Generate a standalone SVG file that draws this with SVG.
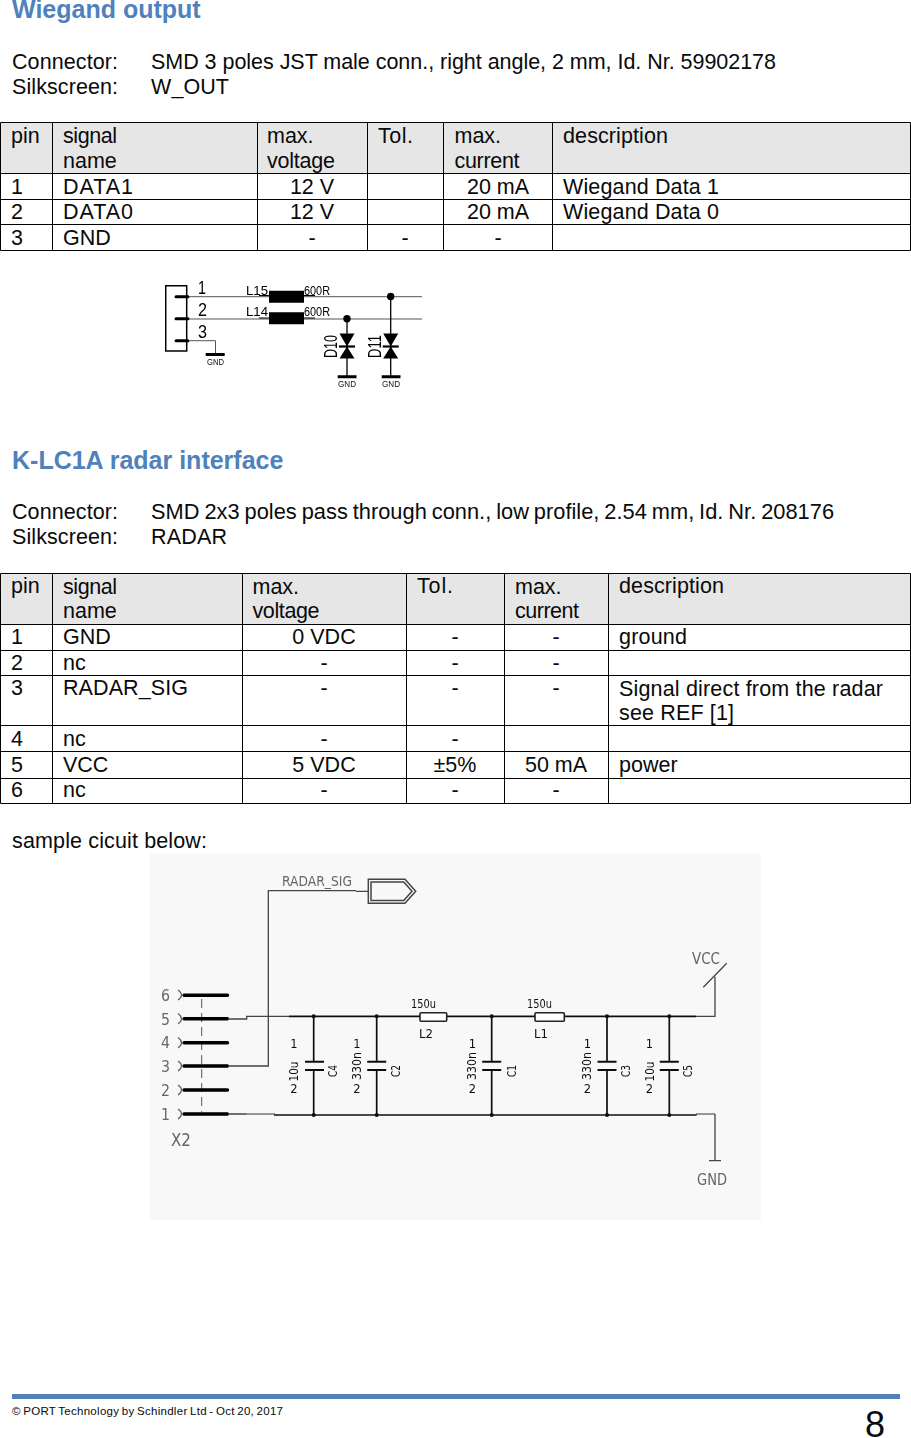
<svg xmlns="http://www.w3.org/2000/svg" width="911" height="1438" viewBox="0 0 911 1438">
<style>
text{font-family:"Liberation Sans",Arial,sans-serif;fill:#0a0a0a}
.b{font-size:21.5px}
.c{text-anchor:middle}
.h{font-size:25px;font-weight:bold;fill:#4f81bd}
.g{stroke:#000;stroke-width:1;fill:none}
.hd{fill:#e6e6e6}
.w{stroke:#444;stroke-width:1.300;fill:none}
.d{stroke:#111;stroke-width:1.700;fill:none}
.t{stroke:#000;stroke-width:3;fill:none;stroke-linecap:round}
.s{font-family:"DejaVu Sans",sans-serif;fill:#666;font-size:16px}
.k{font-family:"DejaVu Sans",sans-serif;fill:#111;font-size:11.500px;text-anchor:middle}
.m{font-family:"Liberation Sans",sans-serif;fill:#000;font-size:13.500px}
.n{font-family:"Liberation Sans",sans-serif;fill:#111;font-size:9.500px;text-anchor:middle}
</style>
<defs>
<filter id="soft" x="0" y="0" width="100%" height="100%"><feGaussianBlur stdDeviation="0.4"/></filter>
<g id="tvs">
<path d="M-7.500 -13H7.500L0 0ZM-7.500 12H7.500L0 0Z" fill="#000"/>
<path d="M-8 0H8" stroke="#000" stroke-width="2.200"/>
</g>
<g id="cap">
<path d="M-9.500 -4.200H9.500M-9.500 4.200H9.500" stroke="#111" stroke-width="2"/>
</g>
</defs>
<rect width="911" height="1438" fill="#fff"/>

<g id="wiegand-text">
<text class="h" x="12" y="17.500">Wiegand output</text>
<text class="b" x="12" y="69" textLength="106">Connector:</text>
<text class="b" x="151" y="69" textLength="625">SMD 3 poles JST male conn., right angle, 2 mm, Id. Nr. 59902178</text>
<text class="b" x="12" y="93.500" textLength="106">Silkscreen:</text>
<text class="b" x="151" y="93.500" textLength="78">W_OUT</text>
</g>

<g id="wiegand-table">
<rect class="hd" x="1" y="122" width="910" height="51"/>
<path class="g" d="M0.500 122.500H910.500V250.500H0.500ZM0.500 173.500H910.500M0.500 199.500H910.500M0.500 224.500H910.500M52.500 122.500V250.500M257.500 122.500V250.500M367.500 122.500V250.500M443.500 122.500V250.500M552.500 122.500V250.500"/>
<g class="b">
<text x="11" y="143">pin</text><text x="63" y="143" textLength="54">signal</text><text x="63" y="167.500">name</text>
<text x="267" y="143">max.</text><text x="267" y="167.500" textLength="68">voltage</text><text x="378" y="143" textLength="35">Tol.</text>
<text x="454.500" y="143">max.</text><text x="454.500" y="167.500" textLength="65">current</text><text x="563" y="143" textLength="105">description</text>
<text x="11" y="194">1</text><text x="63" y="194" textLength="70">DATA1</text><text class="c" x="312" y="194">12 V</text><text class="c" x="498" y="194">20 mA</text><text x="563" y="194" textLength="156">Wiegand Data 1</text>
<text x="11" y="219">2</text><text x="63" y="219" textLength="70">DATA0</text><text class="c" x="312" y="219">12 V</text><text class="c" x="498" y="219">20 mA</text><text x="563" y="219" textLength="156">Wiegand Data 0</text>
<text x="11" y="245">3</text><text x="63" y="245">GND</text><text class="c" x="312" y="245">-</text><text class="c" x="405" y="245">-</text><text class="c" x="498" y="245">-</text>
</g>
</g>

<g id="wiegand-schematic" filter="url(#soft)">
<path d="M165.700 285.700H186.700V351H165.700Z" stroke="#000" stroke-width="1.500" fill="none"/>
<path class="t" d="M176 296.700H188M176 318.700H188M176 340.700H188"/>
<path stroke="#555" fill="none" d="M189 296.700H422M189 319H422M189 340.700H215.500V354"/>
<path stroke="#000" stroke-width="3" d="M205.700 354.500H224.700M337.700 376.700H356.500M381.700 376.700H400.500"/>
<path fill="#000" d="M269 290.700H304V302.700H269ZM269 312.300H304V324.300H269Z"/>
<path stroke="#000" d="M259 295.500H269M304 295.500H315M259 318H269M304 318H315"/>
<circle cx="347" cy="318.700" r="3.700"/><circle cx="390.700" cy="296.500" r="3.700"/>
<path stroke="#000" stroke-width="1.300" d="M347 319V376M390.700 297V376"/>
<use href="#tvs" x="347" y="346.500"/><use href="#tvs" x="390.700" y="346.500"/>
<text class="m" x="198" y="293.500" style="font-size:18px" textLength="8" lengthAdjust="spacingAndGlyphs">1</text>
<text class="m" x="198" y="316" style="font-size:18px" textLength="9" lengthAdjust="spacingAndGlyphs">2</text>
<text class="m" x="198" y="338" style="font-size:18px" textLength="9" lengthAdjust="spacingAndGlyphs">3</text>
<text class="m" x="246" y="294.500" textLength="22" lengthAdjust="spacingAndGlyphs">L15</text><text class="m" x="246" y="316" textLength="22" lengthAdjust="spacingAndGlyphs">L14</text>
<text class="m" x="304" y="294.500" textLength="26" lengthAdjust="spacingAndGlyphs">600R</text>
<text class="m" x="304" y="316" textLength="26" lengthAdjust="spacingAndGlyphs">600R</text>
<text class="n" x="215.500" y="365" textLength="17" lengthAdjust="spacingAndGlyphs">GND</text><text class="n" x="347" y="387" textLength="18" lengthAdjust="spacingAndGlyphs">GND</text><text class="n" x="391" y="387" textLength="18" lengthAdjust="spacingAndGlyphs">GND</text>
<text class="m" transform="translate(336.500 358) rotate(-90)" textLength="23" lengthAdjust="spacingAndGlyphs" style="font-size:18px">D10</text>
<text class="m" transform="translate(381 358) rotate(-90)" textLength="23" lengthAdjust="spacingAndGlyphs" style="font-size:18px">D11</text>
</g>

<g id="radar-text">
<text class="h" x="12" y="469">K-LC1A radar interface</text>
<text class="b" x="12" y="519" textLength="106">Connector:</text>
<text class="b" x="151" y="519" textLength="683" style="font-size:21.800px;word-spacing:-1.200px">SMD 2x3 poles pass through conn., low profile, 2.54 mm, Id. Nr. 208176</text>
<text class="b" x="12" y="544" textLength="106">Silkscreen:</text>
<text class="b" x="151" y="544" textLength="76">RADAR</text>
</g>

<g id="radar-table">
<rect class="hd" x="1" y="573" width="910" height="51"/>
<path class="g" d="M0.500 573.500H910.500V803.500H0.500ZM0.500 624.500H910.500M0.500 650.500H910.500M0.500 675.500H910.500M0.500 725.500H910.500M0.500 751.500H910.500M0.500 778.500H910.500M52.500 573.500V803.500M242.500 573.500V803.500M406.500 573.500V803.500M504.500 573.500V803.500M608.500 573.500V803.500"/>
<g class="b">
<text x="11" y="593">pin</text><text x="63" y="594" textLength="54">signal</text><text x="63" y="618">name</text>
<text x="252.500" y="594">max.</text><text x="252.500" y="618" textLength="67">voltage</text><text x="417" y="593" textLength="36">Tol.</text>
<text x="515" y="594">max.</text><text x="515" y="618" textLength="64">current</text><text x="619" y="593" textLength="105">description</text>
<text x="11" y="644">1</text><text x="63" y="644">GND</text><text class="c" x="324" y="644">0 VDC</text><text class="c" x="455" y="644">-</text><text class="c" x="556" y="644">-</text><text x="619" y="644" textLength="68">ground</text>
<text x="11" y="670">2</text><text x="63" y="670">nc</text><text class="c" x="324" y="670">-</text><text class="c" x="455" y="670">-</text><text class="c" x="556" y="670">-</text>
<text x="11" y="695">3</text><text x="63" y="695" textLength="125">RADAR_SIG</text><text class="c" x="324" y="695">-</text><text class="c" x="455" y="695">-</text><text class="c" x="556" y="695">-</text><text x="619" y="696" textLength="264">Signal direct from the radar</text><text x="619" y="720" textLength="115">see REF [1]</text>
<text x="11" y="746">4</text><text x="63" y="746">nc</text><text class="c" x="324" y="746">-</text><text class="c" x="455" y="746">-</text>
<text x="11" y="772">5</text><text x="63" y="772">VCC</text><text class="c" x="324" y="772">5 VDC</text><text class="c" x="455" y="772">±5%</text><text class="c" x="556" y="772">50 mA</text><text x="619" y="772">power</text>
<text x="11" y="797">6</text><text x="63" y="797">nc</text><text class="c" x="324" y="797">-</text><text class="c" x="455" y="797">-</text><text class="c" x="556" y="797">-</text>
</g>
</g>
<text class="b" x="12" y="848" textLength="195">sample cicuit below:</text>

<rect x="150" y="853" width="611" height="367" fill="#f8f8f8"/>
<g id="radar-schematic" filter="url(#soft)">
<path stroke="#555" stroke-dasharray="9 5" fill="none" d="M201.700 999V1112"/>
<path stroke="#666" stroke-width="1.300" fill="none" d="M178 990Q185 995 178 1000M178 1013.500Q185 1018.700 178 1024M178 1037.500Q185 1042.700 178 1048M178 1061Q185 1066 178 1071M178 1085Q185 1090 178 1095M178 1109Q185 1114 178 1119"/>
<path stroke="#000" stroke-width="3.400" stroke-linecap="round" fill="none" d="M184 995.300H227.500M184 1018.700H227.500M184 1042.700H227.500M184 1066H227.500M184 1090H227.500M184 1114H227.500"/>
<path class="w" d="M228 1019H246.700V1016.300H289M228 1114H246.700M228 1066H268.300V890.700H356"/>
<path stroke="#777" stroke-width="1.300" fill="none" d="M696 1114H715M246 1114H275"/>
<path class="w" d="M356 891.300H368.300M715 1114V1160.700M709 1160.700H721M696 1016.300H715V976.700M703.300 987.300L726.700 963.300"/>
<path class="d" d="M289 1016.300H420M446.700 1016.300H535M564.300 1016.300H696M274 1115H696.700"/>
<path stroke="#444" stroke-width="1.500" fill="none" d="M368.300 879.300H405L415.700 891.300L405 903.300H368.300ZM371 882H403.800L412 891.300L403.800 900.600H371Z"/>
<rect x="420" y="1012.700" width="26.700" height="8.600" rx="1" fill="#fff" stroke="#222" stroke-width="1.600"/>
<rect x="535" y="1012.700" width="29.300" height="8.600" rx="1" fill="#fff" stroke="#222" stroke-width="1.600"/>
<path class="d" d="M313.700 1016.300V1061.700M313.700 1070V1115M376.700 1016.300V1061.700M376.700 1070V1115M491.700 1016.300V1061.700M491.700 1070V1115M607 1016.300V1061.700M607 1070V1115M669.300 1016.300V1061.700M669.300 1070V1115"/>
<use href="#cap" x="314.500" y="1065.900"/><use href="#cap" x="376.700" y="1065.900"/><use href="#cap" x="491.700" y="1065.900"/><use href="#cap" x="607" y="1065.900"/><use href="#cap" x="669.300" y="1065.900"/>
<g fill="#111"><circle cx="313.700" cy="1016.300" r="2"/><circle cx="376.700" cy="1016.300" r="2"/><circle cx="491.700" cy="1016.300" r="2"/><circle cx="607" cy="1016.300" r="2"/><circle cx="669.300" cy="1016.300" r="2"/><circle cx="313.700" cy="1115" r="2"/><circle cx="376.700" cy="1115" r="2"/><circle cx="491.700" cy="1115" r="2"/><circle cx="607" cy="1115" r="2"/><circle cx="669.300" cy="1115" r="2"/></g>
<text class="s" x="161" y="1001" textLength="9" lengthAdjust="spacingAndGlyphs">6</text><text class="s" x="161" y="1024.500" textLength="9" lengthAdjust="spacingAndGlyphs">5</text><text class="s" x="161" y="1048" textLength="9" lengthAdjust="spacingAndGlyphs">4</text><text class="s" x="161" y="1071.500" textLength="9" lengthAdjust="spacingAndGlyphs">3</text><text class="s" x="161" y="1095.500" textLength="9" lengthAdjust="spacingAndGlyphs">2</text><text class="s" x="161" y="1119.500" textLength="9" lengthAdjust="spacingAndGlyphs">1</text>
<text class="s" x="171" y="1146" textLength="20" lengthAdjust="spacingAndGlyphs" style="font-size:17px">X2</text>
<text class="s" x="282" y="886" textLength="70" lengthAdjust="spacingAndGlyphs" style="font-size:14px">RADAR_SIG</text>
<text class="s" x="692" y="963.500" textLength="28" lengthAdjust="spacingAndGlyphs" style="font-size:16px">VCC</text>
<text class="s" x="697" y="1185" textLength="30" lengthAdjust="spacingAndGlyphs" style="font-size:16px">GND</text>
<text class="k" x="423.500" y="1007.500" textLength="25" lengthAdjust="spacingAndGlyphs">150u</text><text class="k" x="426" y="1037.500" textLength="14" lengthAdjust="spacingAndGlyphs" style="font-size:12.500px">L2</text>
<text class="k" x="539.500" y="1007.500" textLength="25" lengthAdjust="spacingAndGlyphs">150u</text><text class="k" x="541" y="1037.500" textLength="14" lengthAdjust="spacingAndGlyphs" style="font-size:12.500px">L1</text>
<text class="k" x="294" y="1048">1</text><text class="k" x="294" y="1093">2</text><text class="k" transform="translate(297.500 1071.500) rotate(-90)" textLength="20" lengthAdjust="spacingAndGlyphs">10u</text><text class="k" transform="translate(337 1071) rotate(-90)" textLength="12" lengthAdjust="spacingAndGlyphs">C4</text>
<text class="k" x="357" y="1048">1</text><text class="k" x="357" y="1093">2</text><text class="k" transform="translate(360.500 1066) rotate(-90)" textLength="28" lengthAdjust="spacingAndGlyphs">330n</text><text class="k" transform="translate(399.500 1071) rotate(-90)" textLength="12" lengthAdjust="spacingAndGlyphs">C2</text>
<text class="k" x="472.500" y="1048">1</text><text class="k" x="472.500" y="1093">2</text><text class="k" transform="translate(476 1066) rotate(-90)" textLength="28" lengthAdjust="spacingAndGlyphs">330n</text><text class="k" transform="translate(515.500 1071) rotate(-90)" textLength="12" lengthAdjust="spacingAndGlyphs">C1</text>
<text class="k" x="587.500" y="1048">1</text><text class="k" x="587.500" y="1093">2</text><text class="k" transform="translate(591 1066) rotate(-90)" textLength="28" lengthAdjust="spacingAndGlyphs">330n</text><text class="k" transform="translate(630 1071) rotate(-90)" textLength="12" lengthAdjust="spacingAndGlyphs">C3</text>
<text class="k" x="649.500" y="1048">1</text><text class="k" x="649.500" y="1093">2</text><text class="k" transform="translate(653.500 1071.500) rotate(-90)" textLength="20" lengthAdjust="spacingAndGlyphs">10u</text><text class="k" transform="translate(692 1071) rotate(-90)" textLength="12" lengthAdjust="spacingAndGlyphs">C5</text>
</g>

<g id="footer">
<rect x="12" y="1394" width="888" height="5" fill="#4f81bd"/>
<text x="12" y="1415" style="font-size:11.500px;word-spacing:-1px" textLength="271">© PORT Technology by Schindler Ltd - Oct 20, 2017</text>
<text x="865" y="1437" style="font-size:36px">8</text>
</g>
</svg>
